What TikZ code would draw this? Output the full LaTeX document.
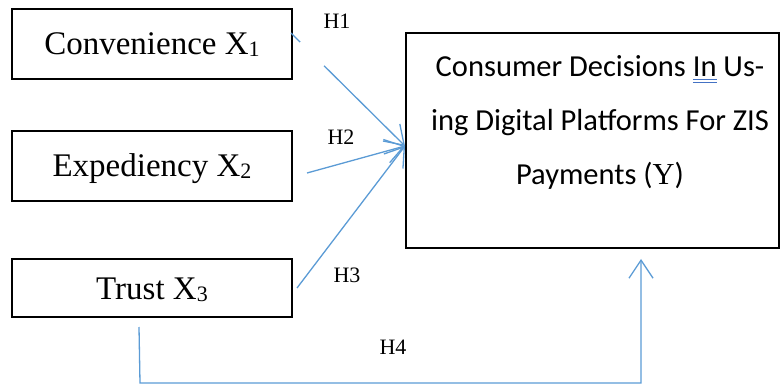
\documentclass[tikz,border=0pt]{standalone}
\usepackage{fontspec}
\setmainfont{Liberation Serif}
\newfontfamily\calibrilike{Carlito}
\usetikzlibrary{arrows.meta,calc}
\definecolor{linkblue}{RGB}{91,155,213}
\definecolor{markblue}{RGB}{68,114,196}
% double underline marking a word
\newsavebox\markedbox
\newcommand\dblmark[1]{\sbox\markedbox{#1}\leavevmode\rlap{\usebox\markedbox}%
  \rlap{\raisebox{-4pt}{\color{markblue}\rule{\wd\markedbox}{0.7pt}}}%
  \raisebox{-6.5pt}{\color{markblue}\rule{\wd\markedbox}{0.7pt}}}
% small, slightly lowered index
\newcommand\lowidx[1]{\raisebox{-2pt}{\fontsize{22}{22}\selectfont #1}}
\tikzset{
  varbox/.style={draw=black, line width=1.2pt, minimum width=280pt, inner sep=0pt,
    text height=22pt, text depth=0pt, font=\fontsize{33}{38}\selectfont},
  hlabel/.style={inner sep=0pt, font=\fontsize{22}{26}\selectfont},
  conn/.style={draw=linkblue, line width=1.3pt},
  tip/.style={-{Straight Barb[length=18pt,width=24pt,line width=1.3pt]}}
}
\begin{document}
\begin{tikzpicture}[x=1pt,y=-1pt]
  \useasboundingbox (0,0) rectangle (780,385);

  % independent variables
  \node[varbox, minimum height=70pt] (conv) at (152,44) {Convenience X\lowidx{1}};
  \node[varbox, minimum height=70pt] (expd) at (152,166) {Expediency X\lowidx{2}};
  \node[varbox, minimum height=58pt] (trust) at (152,288) {Trust X\lowidx{3}};

  % dependent variable
  \node[draw=black, line width=1.2pt, minimum width=373pt, minimum height=215pt, inner sep=0pt]
    (ybox) at (592.5,140.5) {};
  \node[inner sep=0pt, align=center, font=\calibrilike\fontsize{30.5}{54}\selectfont]
    (ytext) at (600,122) {Consumer Decisions \dblmark{In} Us-\\ing Digital Platforms For ZIS\\Payments (\textrm{Y})};

  % connector end points
  \coordinate (yin) at (405,146);
  \coordinate (s1) at (291,33);
  \coordinate (s2) at (307,173);
  \coordinate (s3) at (297,288);
  \coordinate (h4a) at (139,327);
  \coordinate (h4b) at (140,383);
  \coordinate (h4c) at (641,383);
  \coordinate (h4d) at (641,259);

  % hypotheses H1--H3
  \draw[conn] (s1) -- ($(s1)!0.08!(yin)$);
  \draw[conn, tip] ($(s1)!0.29!(yin)$) -- (yin);
  \draw[conn, tip] (s2) -- (yin);
  \draw[conn, tip] (s3) -- (yin);

  % hypothesis H4
  \draw[conn, tip] (h4a) -- (h4b) -- (h4c) -- (h4d);

  % hypothesis labels
  \node[hlabel] (l1) at (337,21) {H1};
  \node[hlabel] (l2) at (341,137) {H2};
  \node[hlabel] (l3) at (347,275) {H3};
  \node[hlabel] (l4) at (393,347) {H4};
\end{tikzpicture}
\end{document}
